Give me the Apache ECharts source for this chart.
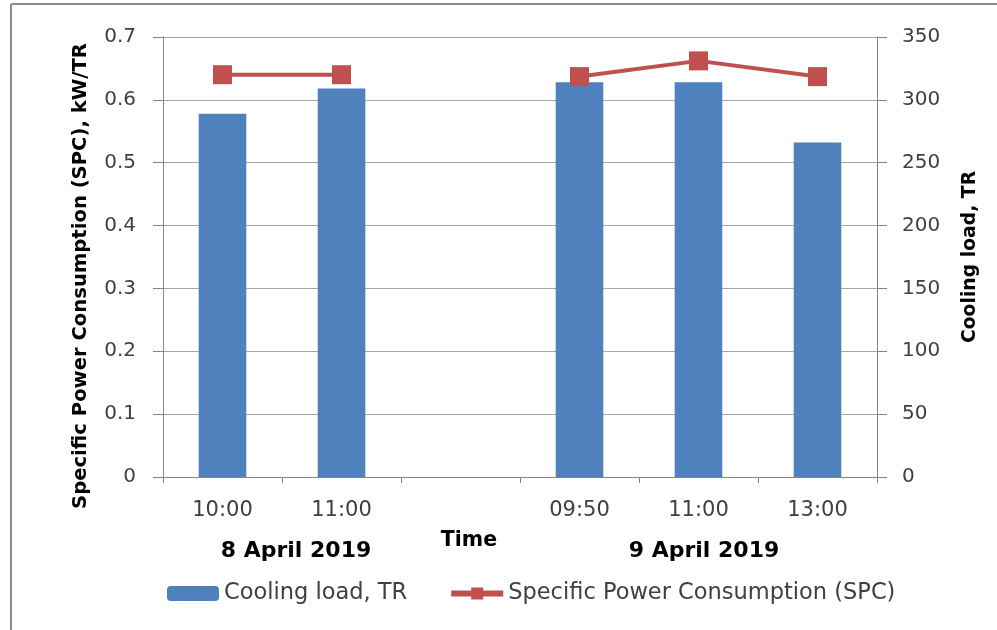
<!DOCTYPE html>
<html><head><meta charset="utf-8">
<script src="https://cdn.jsdelivr.net/npm/echarts@6/dist/echarts.min.js"></script>
<style>html,body{margin:0;padding:0;background:#fff}#c{width:997px;height:630px}</style>
</head><body><div id="c"></div>
<script>
const categories = ['10:00', '11:00', '', '09:50', '11:00', '13:00'];
const coolingLoad = [289, 309, null, 314, 314, 266];
const spc = [0.64, 0.64, null, 0.637, 0.662, 0.637];
const dateLabels = ['8 April 2019', '9 April 2019'];
const leftTitle = 'Specific Power Consumption (SPC), kW/TR';
const rightTitle = 'Cooling load, TR';
const xTitle = 'Time';
const FONT = '"DejaVu Sans",sans-serif';
const TXT = '#404040';
const chart = echarts.init(document.getElementById('c'));
chart.setOption({
  animation: false,
  textStyle: { fontFamily: FONT },
  grid: { left: 163, right: 120, top: 37, bottom: 153 },
  legend: {
    left: 162, top: 577, itemWidth: 52, itemHeight: 15, itemGap: 41,
    textStyle: { fontSize: 22.5, color: TXT, fontFamily: FONT },
    data: [
      { name: 'Cooling load, TR' },
      { name: 'Specific Power Consumption (SPC)', lineStyle: { width: 6 } }
    ]
  },
  xAxis: {
    type: 'category', data: categories,
    axisLine: { lineStyle: { color: '#868686' } },
    axisTick: { show: true, length: 6, lineStyle: { color: '#868686' } },
    axisLabel: { fontSize: 21, color: TXT, margin: 23 }
  },
  yAxis: [
    {
      type: 'value', min: 0, max: 0.7, interval: 0.1, position: 'left',
      axisLine: { show: true, lineStyle: { color: '#868686' } },
      axisTick: { show: true, length: 10, lineStyle: { color: '#868686' } },
      axisLabel: { fontSize: 20, color: TXT, margin: 27, formatter: v => v === 0 ? '0' : v.toFixed(1) },
      splitLine: { lineStyle: { color: '#a6a6a6' } }
    },
    {
      type: 'value', min: 0, max: 350, interval: 50, position: 'right',
      axisLine: { show: true, lineStyle: { color: '#868686' } },
      axisTick: { show: true, length: 10, lineStyle: { color: '#868686' } },
      axisLabel: { fontSize: 20, color: TXT, margin: 25 },
      splitLine: { show: false }
    }
  ],
  series: [
    {
      name: 'Cooling load, TR', type: 'bar', yAxisIndex: 1, data: coolingLoad,
      barWidth: '40%', itemStyle: { color: '#4f81bd' }
    },
    {
      name: 'Specific Power Consumption (SPC)', type: 'line', yAxisIndex: 0, data: spc,
      connectNulls: false, symbol: 'rect', symbolSize: 19,
      lineStyle: { color: '#c0504d', width: 4 }, itemStyle: { color: '#c0504d' }
    }
  ],
  graphic: [
    { type: 'line', shape: { x1: 11, y1: 4, x2: 997, y2: 4 }, style: { stroke: '#8c8c8c', lineWidth: 2 } },
    { type: 'line', shape: { x1: 11, y1: 4, x2: 11, y2: 630 }, style: { stroke: '#8c8c8c', lineWidth: 2 } },
    { type: 'text', x: 81, y: 276, rotation: Math.PI / 2,
      style: { text: leftTitle, font: 'bold 19.6px ' + FONT, fill: '#000', align: 'center', verticalAlign: 'middle' } },
    { type: 'text', x: 970, y: 257, rotation: Math.PI / 2,
      style: { text: rightTitle, font: 'bold 18.8px ' + FONT, fill: '#000', align: 'center', verticalAlign: 'middle' } },
    { type: 'text', x: 469, y: 541,
      style: { text: xTitle, font: 'bold 20.5px ' + FONT, fill: '#000', align: 'center', verticalAlign: 'middle' } },
    { type: 'text', x: 296, y: 551,
      style: { text: dateLabels[0], font: 'bold 22px ' + FONT, fill: '#000', align: 'center', verticalAlign: 'middle' } },
    { type: 'text', x: 704, y: 551,
      style: { text: dateLabels[1], font: 'bold 22px ' + FONT, fill: '#000', align: 'center', verticalAlign: 'middle' } }
  ]
});
</script></body></html>
